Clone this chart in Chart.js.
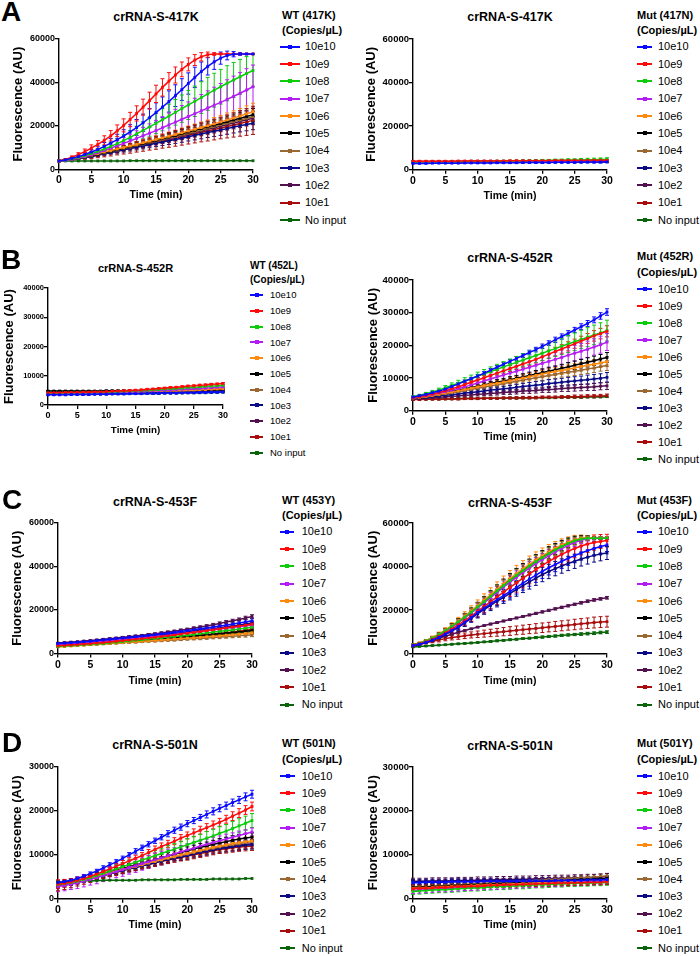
<!DOCTYPE html>
<html>
<head>
<meta charset="utf-8">
<script src="https://cdn.jsdelivr.net/npm/chart.js@4.4.0/dist/chart.umd.min.js"></script>
<style>
  html, body { margin: 0; padding: 0; background: #fff; }
  body { width: 700px; height: 956px; position: relative; overflow: hidden;
         font-family: 'Liberation Sans', Arial, sans-serif; color: #000; }
  canvas { position: absolute; }
  .t { position: absolute; white-space: nowrap; line-height: 1; }
</style>
</head>
<body>
<script>
const FONT = "'Liberation Sans', Arial, sans-serif";

// ---- data ----
const timeMin = [0,1,2,3,4,5,6,7,8,9,10,11,12,13,14,15,16,17,18,19,20,21,22,23,24,25,26,27,28,29,30];
const xTicks = [0,5,10,15,20,25,30];
const yTicks60 = [0,20000,40000,60000];
const yTicks40 = [0,10000,20000,30000,40000];
const yTicks30 = [0,10000,20000,30000];
const concLabels = ['10e10','10e9','10e8','10e7','10e6','10e5','10e4','10e3','10e2','10e1','No input'];
const seriesColors = ['#0a0aff','#ff0a0a','#0ccc0c','#b41cf4','#ff8a10','#000000','#9a6832','#0a0a86','#52104f','#a80c0c','#0a640a'];

// A, WT (417K)
const wt417K = [
  [3800,4300,5000,5800,6800,7900,9100,10500,12000,13600,15300,17200,19200,21400,23700,26100,28600,31200,33900,36700,39500,42300,45000,47400,49500,51200,52400,53000,53100,53100,53100],
  [3800,4500,5500,6700,8100,9700,11400,13300,15400,17700,20200,22900,25700,28600,31600,34700,37700,40600,43400,46000,48300,50300,51800,52800,53100,53100,53100,53100,53100,53100,53100],
  [3800,4200,4800,5500,6300,7200,8200,9300,10500,11800,13200,14700,16300,17900,19500,21100,22800,24500,26200,27900,29600,31300,33000,34700,36400,38000,39600,41100,42600,44100,45500],
  [3800,4100,4600,5200,5900,6700,7600,8600,9700,10800,11900,13000,14200,15400,16600,17800,19100,20400,21700,23000,24300,25600,26900,28200,29500,30800,32200,33600,35000,36500,38000],
  [3800,4200,4700,5300,5900,6500,7200,7900,8600,9300,10000,10700,11400,12200,12900,13700,14400,15200,16000,16800,17600,18400,19200,20000,20900,21800,22700,23600,24500,25500,26500],
  [3800,4200,4600,5100,5700,6300,6900,7600,8300,9000,9700,10400,11100,11800,12500,13300,14000,14800,15500,16300,17100,17900,18700,19500,20300,21100,21900,22700,23500,24300,25100],
  [3800,4100,4500,5000,5600,6200,6800,7500,8100,8800,9500,10200,10900,11600,12300,13000,13700,14400,15100,15800,16600,17300,18100,18900,19700,20500,21200,22000,22700,23500,24200],
  [3800,4100,4500,4900,5400,5900,6500,7100,7700,8300,8900,9500,10100,10700,11300,11900,12500,13100,13700,14300,15000,15600,16200,16900,17500,18100,18700,19400,20000,20600,21200],
  [3800,4100,4500,5000,5500,6100,6700,7300,8000,8600,9300,10000,10600,11300,12000,12700,13400,14100,14800,15500,16200,16900,17600,18400,19100,19800,20600,21300,22000,22800,23500],
  [3800,4100,4500,4900,5400,5900,6500,7100,7700,8400,9000,9600,10300,10900,11600,12200,12900,13500,14200,14900,15600,16300,17000,17600,18300,19000,19700,20400,21100,21800,22500],
  [3800,3800,3800,3800,3800,3800,3800,3800,3800,3800,3800,3900,3900,3900,3900,3900,3900,3900,3900,3900,3900,3900,3900,3900,3900,3900,3900,3900,3900,3900,3900]
];
const eA1Blue = [200,300,500,700,900,1200,1500,1800,2100,2500,2900,3300,3700,4000,4300,4500,4700,4900,5000,5000,4900,4700,4400,4000,3500,2800,2000,1200,600,300,200];
const eA1Red = [200,400,600,900,1200,1500,1800,2100,2400,2700,3000,3300,3500,3700,3900,4000,4000,3900,3700,3400,3000,2500,1900,1200,600,300,200,200,200,200,200];
const eA1Green = [200,300,400,600,800,1000,1300,1600,1900,2300,2700,3100,3500,3900,4300,4700,5100,5500,5900,6300,6700,7000,7300,7600,7800,8000,8100,8100,8000,7800,7500];
const eA1Purple = [200,300,400,600,800,1000,1300,1600,1900,2300,2700,3100,3500,3900,4300,4700,5100,5500,5900,6300,6700,7100,7500,7900,8300,8700,9000,9300,9600,9800,10000];
const eA1Orange = [200,200,300,400,500,600,700,800,900,1000,1100,1200,1300,1400,1500,1700,1800,1900,2000,2200,2300,2400,2600,2700,2900,3000,3200,3300,3500,3700,3900];
const eA1Low = [200,200,300,300,400,500,600,700,800,900,1000,1100,1200,1300,1400,1500,1600,1700,1800,1900,2000,2100,2200,2300,2400,2500,2600,2700,2800,2900,3000];
const eA1DRed = [200,300,400,600,800,1000,1200,1400,1600,1800,2000,2200,2400,2600,2800,3000,3200,3400,3600,3800,4000,4200,4400,4600,4800,5000,5300,5600,5900,6200,6500];
const wt417KErr = [eA1Blue, eA1Red, eA1Green, eA1Purple, eA1Orange, eA1Low, eA1Low, eA1Low, eA1Low, eA1DRed, null];

// A, Mut (417N)
const mut417N = [
  [2900,2900,2900,3000,3000,3000,3000,3000,3100,3100,3100,3100,3100,3200,3200,3200,3200,3300,3300,3300,3300,3300,3400,3400,3400,3400,3500,3500,3500,3500,3600],
  [3900,3900,3900,3900,3900,3900,3900,4000,4000,4000,4000,4000,4000,4000,4000,4100,4100,4100,4100,4100,4100,4100,4200,4200,4200,4200,4200,4200,4300,4300,4300],
  [3700,3700,3700,3700,3700,3700,3700,3700,3800,3800,3800,3800,3800,3900,3900,3900,4000,4000,4100,4100,4200,4200,4300,4300,4400,4400,4500,4600,4600,4700,4800],
  [3600,3600,3600,3600,3600,3700,3700,3700,3700,3700,3700,3800,3800,3800,3800,3800,3900,3900,3900,3900,4000,4000,4000,4000,4100,4100,4100,4200,4200,4200,4300],
  [3500,3500,3500,3500,3500,3500,3500,3600,3600,3600,3600,3600,3600,3600,3700,3700,3700,3700,3700,3700,3800,3800,3800,3800,3800,3900,3900,3900,3900,4000,4000],
  [3400,3400,3400,3400,3400,3400,3500,3500,3500,3500,3500,3500,3500,3500,3600,3600,3600,3600,3600,3600,3600,3700,3700,3700,3700,3700,3700,3800,3800,3800,3800],
  [3500,3500,3500,3500,3500,3500,3500,3500,3600,3600,3600,3600,3600,3600,3700,3700,3700,3700,3700,3700,3800,3800,3800,3800,3800,3800,3900,3900,3900,3900,4000],
  [3300,3300,3300,3300,3300,3300,3300,3400,3400,3400,3400,3400,3400,3400,3500,3500,3500,3500,3500,3500,3500,3600,3600,3600,3600,3600,3600,3700,3700,3700,3700],
  [3800,3800,3800,3800,3800,3800,3800,3800,3800,3900,3900,3900,3900,3900,3900,3900,3900,4000,4000,4000,4000,4000,4000,4000,4000,4100,4100,4100,4100,4100,4100],
  [3700,3700,3700,3700,3700,3700,3700,3700,3700,3800,3800,3800,3800,3800,3800,3800,3800,3800,3900,3900,3900,3900,3900,3900,3900,3900,4000,4000,4000,4000,4000],
  [3600,3600,3600,3600,3600,3600,3600,3600,3600,3600,3600,3600,3600,3600,3600,3600,3700,3700,3700,3700,3700,3700,3700,3700,3700,3700,3700,3700,3700,3700,3700]
];
const eA2 = [150,150,150,150,150,150,150,150,200,200,200,200,200,200,200,250,250,250,250,250,300,300,300,300,300,350,350,350,400,400,400];
const eA2Green = [200,200,200,200,200,200,250,250,250,250,300,300,300,300,350,350,400,400,450,450,500,500,550,550,600,600,650,650,700,700,700];
const mut417NErr = [eA2, eA2, eA2Green, eA2, eA2, eA2, eA2, eA2, eA2, eA2, null];

// B, WT (452L)
const wt452L = [
  [3500,3500,3500,3500,3600,3600,3600,3600,3700,3700,3700,3800,3800,3800,3900,3900,3900,4000,4000,4000,4100,4100,4100,4200,4200,4200,4300,4300,4400,4400,4500],
  [4200,4200,4200,4300,4300,4300,4400,4400,4500,4500,4600,4700,4800,4900,5000,5100,5200,5400,5500,5700,5800,6000,6100,6300,6500,6600,6800,6900,7100,7200,7400],
  [4000,4000,4000,4100,4100,4100,4200,4200,4300,4300,4400,4500,4600,4700,4800,4900,5000,5100,5200,5300,5500,5600,5700,5800,6000,6100,6200,6400,6500,6600,6800],
  [3900,3900,3900,4000,4000,4000,4100,4100,4200,4200,4300,4300,4400,4500,4500,4600,4700,4800,4900,5000,5100,5200,5300,5400,5500,5600,5700,5800,5900,6100,6200],
  [4000,4000,4000,4000,4100,4100,4100,4200,4200,4200,4300,4300,4400,4400,4500,4500,4600,4600,4700,4700,4800,4900,4900,5000,5100,5100,5200,5300,5400,5500,5600],
  [4800,4800,4800,4800,4800,4800,4800,4800,4800,4800,4900,4900,4900,4900,4900,4900,4900,5000,5000,5000,5000,5000,5000,5100,5100,5100,5100,5100,5200,5200,5200],
  [4300,4300,4300,4300,4400,4400,4400,4400,4500,4500,4500,4500,4600,4600,4600,4700,4700,4700,4800,4800,4800,4900,4900,4900,5000,5000,5100,5100,5200,5200,5300],
  [3800,3800,3800,3800,3900,3900,3900,3900,4000,4000,4000,4100,4100,4100,4200,4200,4200,4300,4300,4300,4400,4400,4500,4500,4500,4600,4600,4700,4700,4800,4900],
  [4100,4100,4100,4100,4200,4200,4200,4200,4300,4300,4300,4400,4400,4400,4500,4500,4500,4600,4600,4700,4700,4700,4800,4800,4900,4900,5000,5000,5100,5200,5300],
  [4000,4000,4000,4100,4100,4100,4100,4200,4200,4200,4300,4300,4300,4400,4400,4500,4500,4600,4600,4700,4700,4800,4800,4900,5000,5000,5100,5200,5300,5400,5500],
  [3700,3700,3700,3700,3700,3800,3800,3800,3800,3800,3900,3900,3900,3900,3900,4000,4000,4000,4000,4000,4100,4100,4100,4100,4200,4200,4200,4200,4300,4300,4400]
];
const eB1 = [150,150,150,150,150,150,150,150,150,150,200,200,200,200,200,200,200,200,200,200,250,250,250,250,250,250,300,300,300,300,300];
const wt452LErr = [eB1, eB1, eB1, eB1, eB1, eB1, eB1, eB1, eB1, eB1, null];

// B, Mut (452R)
const mut452R = [
  [4200,4600,5000,5500,6000,6600,7400,8200,9000,9800,10600,11500,12400,13300,14200,15100,16000,16900,17800,18700,19700,20700,21700,22700,23700,24700,25700,26700,27800,29000,30200],
  [4000,4300,4700,5100,5600,6100,6700,7300,8000,8700,9400,10100,10800,11500,12200,12900,13600,14300,15000,15700,16500,17300,18100,18900,19700,20500,21300,22100,22900,23600,24300],
  [4300,4700,5200,5700,6300,7000,7700,8400,9100,9800,10600,11300,12000,12700,13400,14100,14800,15500,16200,16900,17600,18300,19000,19700,20400,21100,21800,22500,23200,23800,24500],
  [4000,4300,4600,5000,5400,5800,6300,6800,7300,7900,8500,9100,9700,10300,10900,11500,12100,12700,13300,13900,14500,15100,15700,16300,17000,17600,18200,18800,19500,20200,21000],
  [3900,4100,4400,4700,5000,5400,5700,6100,6500,6900,7300,7700,8100,8400,8800,9200,9600,10000,10400,10800,11200,11600,12000,12300,12700,13100,13500,13900,14200,14600,15000],
  [4000,4200,4500,4800,5100,5500,5900,6300,6700,7100,7500,7900,8300,8700,9100,9500,9900,10300,10800,11200,11700,12100,12500,13000,13400,13900,14400,14800,15300,15800,16300],
  [3900,4100,4300,4600,4900,5200,5500,5800,6200,6500,6900,7200,7600,7900,8300,8600,9000,9400,9700,10100,10400,10800,11100,11500,11800,12100,12400,12800,13100,13500,13800],
  [3800,3900,4100,4300,4500,4700,4900,5100,5400,5600,5800,6000,6300,6500,6700,6900,7200,7400,7600,7800,8000,8300,8500,8700,8900,9100,9300,9500,9700,9900,10200],
  [3600,3700,3800,4000,4100,4200,4400,4500,4700,4800,5000,5100,5300,5400,5600,5700,5800,6000,6100,6200,6400,6500,6600,6800,6900,7000,7100,7200,7300,7500,7600],
  [3400,3400,3500,3500,3500,3600,3600,3600,3700,3700,3700,3800,3800,3800,3900,3900,3900,4000,4000,4000,4100,4100,4100,4200,4200,4300,4300,4400,4400,4500,4600],
  [3500,3500,3500,3600,3600,3600,3600,3700,3700,3700,3700,3800,3800,3800,3800,3900,3900,3900,3900,4000,4000,4000,4000,4100,4100,4100,4100,4200,4200,4200,4300]
];
const eB2Blue = [200,200,300,300,300,300,400,400,400,400,500,500,500,500,600,600,600,600,700,700,700,700,800,800,800,800,900,900,900,1000,1000];
const eB2Green = [200,300,400,500,600,700,800,900,1000,1100,1200,1300,1400,1500,1600,1700,1800,1900,2000,2100,2200,2300,2400,2500,2600,2700,2800,2900,3000,3100,3200];
const eB2Red = [200,200,300,300,400,400,500,500,600,600,700,700,800,800,900,900,1000,1000,1100,1100,1200,1200,1300,1300,1400,1400,1500,1500,1600,1600,1700];
const eB2Purple = [200,200,300,300,400,500,600,700,800,900,1000,1100,1200,1300,1400,1500,1600,1700,1800,1900,2000,2100,2200,2300,2300,2400,2400,2500,2500,2600,2600];
const eB2Mid = [200,200,300,300,300,400,400,500,500,600,600,700,700,800,800,900,900,1000,1000,1100,1100,1200,1200,1200,1300,1300,1300,1400,1400,1400,1500];
const eB2Low = [200,200,200,300,300,300,400,400,400,500,500,500,600,600,600,700,700,700,800,800,800,900,900,900,1000,1000,1000,1000,1100,1100,1100];
const eB2Flat = [200,200,200,200,200,200,200,300,300,300,300,300,300,300,300,300,400,400,400,400,400,400,400,400,400,500,500,500,500,500,500];
const mut452RErr = [eB2Blue, eB2Red, eB2Green, eB2Purple, eB2Mid, eB2Mid, eB2Mid, eB2Mid, eB2Low, eB2Flat, null];

// C, WT (453Y)
const wt453Y = [
  [4500,4700,4900,5100,5400,5600,5900,6200,6500,6800,7100,7400,7700,8000,8300,8600,9000,9300,9700,10100,10500,10900,11300,11700,12100,12600,13000,13500,14000,14500,15000],
  [3500,3700,3900,4100,4300,4500,4800,5000,5300,5600,5900,6200,6500,6800,7100,7400,7800,8100,8500,8900,9300,9700,10100,10500,10900,11300,11800,12200,12600,13000,13500],
  [3200,3400,3600,3800,4000,4200,4400,4600,4900,5100,5400,5700,6000,6300,6600,6900,7200,7500,7800,8100,8400,8700,9100,9400,9800,10100,10500,10800,11200,11600,12000],
  [4000,4200,4400,4600,4800,5000,5300,5500,5800,6000,6300,6600,6900,7200,7500,7800,8100,8400,8700,9100,9400,9800,10100,10500,10900,11200,11600,12000,12300,12700,13000],
  [3000,3200,3400,3600,3800,4000,4200,4400,4600,4800,5000,5200,5400,5600,5800,6000,6200,6400,6600,6800,7000,7200,7400,7700,7900,8100,8400,8600,8900,9200,9500],
  [3500,3700,3900,4100,4300,4500,4700,4900,5100,5300,5500,5700,5900,6100,6300,6500,6800,7000,7200,7500,7700,8000,8200,8500,8800,9000,9300,9600,9900,10200,10500],
  [3200,3400,3600,3700,3900,4100,4200,4400,4600,4700,4900,5100,5200,5400,5600,5700,5900,6100,6200,6400,6600,6800,6900,7100,7300,7500,7700,7900,8100,8300,8500],
  [4500,4700,4900,5100,5300,5500,5800,6000,6300,6500,6800,7100,7400,7700,8000,8300,8600,8900,9200,9500,9900,10200,10600,11000,11400,11800,12200,12600,13000,13500,14000],
  [4800,5000,5200,5400,5700,5900,6200,6500,6800,7100,7400,7700,8000,8300,8700,9000,9400,9800,10200,10700,11100,11600,12100,12600,13200,13800,14400,15000,15600,16300,17000],
  [3300,3500,3700,3900,4100,4300,4500,4700,4900,5100,5300,5500,5700,5900,6200,6400,6600,6900,7100,7400,7700,8000,8300,8600,8900,9200,9500,9800,10200,10600,11000],
  [3300,3500,3600,3800,4000,4200,4400,4600,4800,5000,5200,5400,5600,5800,6000,6200,6400,6600,6800,7100,7300,7500,7700,8000,8200,8500,8800,9100,9400,9700,10000]
];
const eC1Small = [200,200,200,200,200,300,300,300,300,300,300,400,400,400,400,400,500,500,500,500,500,600,600,600,600,700,700,700,700,800,800];
const eC1Green = [200,200,300,300,300,400,400,400,500,500,500,600,600,600,700,700,700,800,800,800,900,900,900,1000,1000,1000,1100,1100,1100,1200,1200];
const wt453YErr = [eC1Green, eC1Small, eC1Green, eC1Small, eC1Small, eC1Small, eC1Small, eC1Small, eC1Small, eC1Small, eC1Small];

// C, Mut (453F)
const mut453F = [
  [3600,4200,5000,6100,7400,8900,10500,12300,14300,16500,18800,20800,22800,24700,26600,28500,30400,32300,34200,36000,37800,39400,40900,42400,43800,45000,46200,47300,48300,49200,49900],
  [3800,4400,5300,6400,7800,9400,11200,13100,15100,17200,19400,21600,23800,26000,28200,30400,32500,34600,36600,38600,40500,42300,44000,45600,47000,48300,49400,50300,51000,51500,51900],
  [3900,4600,5700,7000,8600,10400,12400,14500,16700,19000,21400,23800,26300,28800,31200,33600,35900,38100,40200,42200,44100,45900,47600,49200,50600,51800,52600,53000,53000,53000,53000],
  [3800,4500,5500,6800,8300,10100,12000,14100,16300,18600,20900,23300,25700,28100,30500,32800,35000,37200,39200,41200,43100,44900,46600,48200,49700,51000,52000,52700,53000,53000,53000],
  [4000,4800,5900,7300,8900,10700,12700,14900,17200,19600,22000,24500,27000,29500,32000,34400,36700,38900,41000,43000,44900,46700,48400,49900,51200,52300,53000,53200,53200,53200,53200],
  [4000,4700,5800,7100,8700,10500,12500,14600,16800,19100,21500,23900,26400,28900,31400,33800,36100,38300,40400,42400,44400,46300,48000,49600,51000,52100,52800,53100,53100,53100,53100],
  [3900,4600,5600,6900,8500,10300,12300,14400,16600,18900,21300,23700,26100,28600,31000,33400,35700,37900,40000,42000,43900,45700,47400,49000,50400,51600,52500,53000,53000,53000,53000],
  [3600,4200,5000,6000,7300,8700,10300,12000,14000,16100,18300,20200,22100,24000,25800,27600,29400,31200,32900,34600,36300,37700,39000,40200,41400,42400,43400,44300,45100,45700,46200],
  [3500,4300,5200,6100,7000,7900,8800,9700,10500,11300,12100,12800,13500,14200,14900,15600,16300,17000,17700,18400,19100,19800,20500,21200,21900,22600,23300,24000,24600,25100,25600],
  [3400,4100,4900,5600,6200,6800,7300,7700,8100,8500,8800,9100,9400,9700,10000,10300,10600,10900,11200,11500,11800,12100,12400,12700,13000,13300,13600,13900,14200,14400,14600],
  [3000,3200,3400,3600,3800,4000,4200,4400,4600,4800,5000,5300,5500,5800,6000,6300,6500,6800,7000,7300,7500,7800,8000,8300,8500,8700,8900,9100,9300,9600,9800]
];
const eC2Top = [200,300,400,600,800,1000,1200,1400,1600,1800,2000,2200,2400,2600,2800,2900,3000,3000,3000,3000,2900,2800,2600,2400,2100,1800,1400,1000,700,500,400];
const eC2Orange = [200,300,500,700,900,1100,1400,1700,2000,2300,2600,2900,3200,3400,3600,3700,3800,3800,3800,3700,3600,3400,3100,2800,2400,2000,1500,1000,700,500,400];
const eC2Red = [200,300,500,700,900,1200,1500,1800,2100,2400,2700,3000,3300,3600,3900,4100,4300,4500,4600,4700,4700,4700,4700,4600,4500,4300,4100,3800,3500,3200,2900];
const eC2Blue = [200,300,400,600,800,1000,1200,1400,1600,1800,2000,2200,2400,2600,2800,3000,3100,3200,3300,3300,3300,3300,3300,3300,3300,3300,3200,3200,3100,3100,3000];
const eC2DRed = [200,300,500,700,900,1000,1100,1200,1300,1400,1500,1600,1700,1800,1900,2000,2000,2100,2100,2200,2200,2200,2300,2300,2300,2400,2400,2400,2500,2500,2500];
const eC2Low = [100,100,200,200,200,200,300,300,300,300,300,300,400,400,400,400,400,400,400,500,500,500,500,500,500,500,600,600,600,600,600];
const mut453FErr = [eC2Blue, eC2Red, eC2Top, eC2Top, eC2Orange, eC2Top, eC2Top, eC2Blue, eC2Low, eC2DRed, eC2Low];

// D, WT (501N)
const wt501N = [
  [3700,3900,4200,4600,5100,5700,6300,7000,7700,8400,9200,10000,10800,11600,12400,13200,14000,14800,15600,16300,17100,17800,18500,19200,19900,20600,21200,21900,22500,23200,23800],
  [3300,3500,3800,4200,4600,5100,5600,6200,6800,7400,8000,8600,9200,9800,10500,11200,11900,12500,13100,13800,14400,15000,15600,16200,16800,17400,18100,18800,19500,20200,21000],
  [3200,3400,3700,4000,4400,4800,5300,5800,6300,6800,7300,7800,8300,8800,9300,9800,10300,10800,11300,11800,12300,12800,13300,13800,14300,14900,15400,16000,16600,17200,17800],
  [2800,3000,3300,3600,4000,4400,4800,5300,5700,6200,6600,7100,7500,8000,8400,8900,9300,9800,10200,10700,11100,11500,12000,12400,12800,13200,13600,14000,14400,14800,15200],
  [3200,3400,3700,4000,4300,4700,5100,5500,5900,6300,6700,7000,7400,7800,8200,8500,8900,9300,9600,10000,10300,10700,11000,11400,11700,12000,12300,12600,12800,13000,13200],
  [3400,3600,3900,4200,4500,4900,5300,5700,6100,6500,6900,7300,7700,8100,8500,8900,9300,9700,10100,10500,10900,11300,11700,12000,12400,12700,13000,13300,13600,13800,14000],
  [3300,3500,3800,4100,4400,4800,5100,5500,5900,6300,6600,7000,7400,7700,8100,8500,8800,9200,9500,9900,10200,10500,10900,11200,11500,11800,12100,12300,12500,12800,13000],
  [3200,3400,3700,4000,4300,4600,5000,5300,5700,6100,6400,6800,7100,7500,7800,8200,8500,8900,9200,9500,9800,10200,10500,10800,11100,11400,11600,11800,12000,12200,12300],
  [3000,3200,3500,3800,4200,4600,5000,5400,5800,6200,6600,7000,7400,7700,8100,8400,8800,9100,9500,9800,10100,10400,10700,11000,11300,11600,11800,12000,12200,12400,12500],
  [3000,3200,3500,3800,4100,4500,4900,5300,5700,6000,6400,6800,7100,7500,7800,8200,8500,8800,9100,9400,9700,10000,10300,10600,10900,11200,11400,11600,11800,11900,12000],
  [3800,3900,4000,4000,4100,4100,4100,4200,4200,4200,4200,4200,4200,4300,4300,4300,4300,4300,4300,4400,4400,4400,4400,4400,4500,4500,4500,4500,4500,4600,4600]
];
const eD1Blue = [300,300,300,400,400,400,400,500,500,500,500,500,600,600,600,600,600,700,700,700,700,700,700,800,800,800,800,800,800,900,900];
const eD1Red = [1000,900,800,700,700,600,600,600,600,600,700,700,700,700,700,800,800,800,800,800,800,900,900,900,900,900,900,1000,1000,1000,1000];
const eD1Green = [500,500,500,600,600,700,700,800,800,900,900,1000,1000,1100,1100,1200,1200,1300,1300,1300,1400,1400,1400,1500,1500,1500,1500,1600,1600,1600,1600];
const eD1Purple = [1200,1200,1200,1300,1300,1300,1400,1400,1400,1400,1500,1500,1500,1500,1500,1500,1500,1500,1400,1400,1400,1300,1300,1200,1200,1100,1100,1000,1000,900,900];
const eD1Mid = [500,500,500,500,500,600,600,600,600,600,700,700,700,700,700,800,800,800,800,800,900,900,900,900,900,1000,1000,1000,1000,1000,1000];
const eD1DRed = [1200,1100,1000,900,800,800,700,700,700,700,700,700,700,700,800,800,800,800,800,800,900,900,900,900,900,900,1000,1000,1000,1000,1000];
const wt501NErr = [eD1Blue, eD1Red, eD1Green, eD1Purple, eD1Mid, eD1Mid, eD1Mid, eD1Mid, eD1Mid, eD1DRed, null];

// D, Mut (501Y)
const mut501Y = [
  [3600,3600,3700,3700,3700,3700,3800,3800,3800,3800,3800,3900,3900,3900,3900,3900,3900,4000,4000,4000,4000,4000,4100,4100,4100,4100,4100,4200,4200,4200,4300],
  [2200,2300,2300,2400,2500,2500,2600,2700,2700,2800,2800,2900,3000,3000,3100,3100,3200,3200,3300,3300,3400,3400,3500,3500,3500,3600,3600,3700,3700,3700,3800],
  [1600,1700,1800,1900,2000,2000,2100,2200,2300,2400,2400,2500,2600,2700,2700,2800,2900,2900,3000,3100,3100,3200,3300,3300,3400,3400,3500,3500,3600,3600,3700],
  [1800,1900,2000,2100,2200,2200,2300,2400,2500,2500,2600,2700,2800,2800,2900,3000,3000,3100,3200,3200,3300,3400,3400,3500,3600,3600,3700,3800,3800,3900,4000],
  [2300,2400,2400,2500,2600,2600,2700,2800,2800,2900,3000,3000,3100,3100,3200,3300,3300,3400,3400,3500,3600,3600,3700,3700,3800,3800,3900,4000,4000,4100,4200],
  [2500,2600,2600,2700,2800,2800,2900,3000,3000,3100,3200,3200,3300,3400,3400,3500,3600,3600,3700,3800,3800,3900,4000,4000,4100,4200,4300,4300,4400,4500,4600],
  [2600,2700,2700,2800,2900,3000,3100,3100,3200,3300,3400,3500,3500,3600,3700,3800,3900,3900,4000,4100,4200,4300,4400,4400,4500,4600,4700,4800,4900,5000,5200],
  [3800,3800,3900,3900,3900,3900,4000,4000,4000,4000,4000,4100,4100,4100,4100,4100,4200,4200,4200,4200,4300,4300,4300,4300,4300,4400,4400,4400,4400,4500,4500],
  [3900,3900,3900,4000,4000,4000,4000,4100,4100,4100,4200,4200,4200,4300,4300,4300,4400,4400,4400,4500,4500,4500,4600,4600,4600,4700,4700,4800,4800,4900,5000],
  [2400,2400,2500,2500,2600,2600,2700,2700,2800,2800,2900,2900,3000,3000,3000,3100,3100,3200,3200,3200,3300,3300,3400,3400,3400,3500,3500,3500,3600,3600,3700],
  [3700,3700,3700,3800,3800,3800,3800,3800,3900,3900,3900,3900,3900,3900,4000,4000,4000,4000,4000,4100,4100,4100,4100,4100,4200,4200,4200,4200,4200,4300,4300]
];
const eD2 = [500,500,500,500,500,500,500,500,500,500,500,500,500,500,500,500,500,500,500,500,500,500,500,500,500,500,500,500,500,500,500];
const eD2Wide = [700,700,700,700,700,700,700,700,700,700,700,700,700,700,700,700,700,700,700,700,700,700,700,700,700,700,700,700,700,700,700];
const mut501YErr = [eD2, eD2, eD2Wide, eD2Wide, eD2, eD2, eD2, eD2, eD2Wide, eD2, null];

// ---- layout of the eight panels ----
const L_LEG = { hfs: 11, ifs: 11, l0: 280, l1: 298, tx: 304, x: 282 };
const R_LEG = { hfs: 11, ifs: 11, l0: 637, l1: 652, tx: 658, x: 637 };

const panels = [
  { vals: wt417K, errs: wt417KErr, title: 'crRNA-S-417K', head: 'WT (417K)', yTicks: yTicks60, yMax: 60000,
    cx: 0, L: 59, T: 39, R: 253, B: 168, W: 48.5, H: 31.8, ty: 17, tfs: 12.5, ytf: 9, xtf: 10.5, xTf: 10.5,
    lg: Object.assign({}, L_LEG, { h1: 15, h2: 30, y0: 46.7, st: 17.33, l1: 300, tx: 305 }) },
  { vals: mut417N, errs: mut417NErr, title: 'crRNA-S-417K', head: 'Mut (417N)', yTicks: yTicks60, yMax: 60000,
    cx: 350, L: 413, T: 39, R: 607, B: 168, W: 49, H: 32.3, ty: 17, tfs: 12.5, ytf: 9.5, xtf: 10.5, xTf: 10.5,
    lg: Object.assign({}, R_LEG, { h1: 15, h2: 30, y0: 46.7, st: 17.33 }) },
  { vals: wt452L, errs: wt452LErr, title: 'crRNA-S-452R', head: 'WT (452L)', yTicks: yTicks40, yMax: 40000,
    cx: 0, L: 48, T: 288, R: 223, B: 404, W: 46.6, H: 30.9, ty: 268, tfs: 11, ytf: 7.5, xtf: 9, xTf: 9.8,
    lg: { hfs: 10, ifs: 9.5, x: 250, l0: 250, l1: 263, tx: 270, h1: 266, h2: 280, y0: 295, st: 15.75 } },
  { vals: mut452R, errs: mut452RErr, title: 'crRNA-S-452R', head: 'Mut (452R)', yTicks: yTicks40, yMax: 40000,
    cx: 350, L: 413, T: 280, R: 607, B: 409, W: 47.5, H: 32.3, ty: 258, tfs: 12.5, ytf: 9.5, xtf: 10.5, xTf: 10.5,
    lg: Object.assign({}, R_LEG, { h1: 256, h2: 272.7, y0: 289, st: 17.04 }) },
  { vals: wt453Y, errs: wt453YErr, title: 'crRNA-S-453F', head: 'WT (453Y)', yTicks: yTicks60, yMax: 60000,
    cx: 0, L: 58, T: 523, R: 252, B: 652, W: 48.3, H: 33.6, ty: 502, tfs: 12.5, ytf: 9, xtf: 10.5, xTf: 10.5,
    lg: Object.assign({}, L_LEG, { h1: 500, h2: 515, y0: 531.7, st: 17.3, l1: 294, tx: 301.7 }) },
  { vals: mut453F, errs: mut453FErr, title: 'crRNA-S-453F', head: 'Mut (453F)', yTicks: yTicks60, yMax: 60000,
    cx: 350, L: 413, T: 523, R: 607, B: 652, W: 47.8, H: 33.6, ty: 503, tfs: 12.5, ytf: 9.5, xtf: 10.5, xTf: 10.5,
    lg: Object.assign({}, R_LEG, { h1: 500, h2: 515, y0: 531.7, st: 17.3 }) },
  { vals: wt501N, errs: wt501NErr, title: 'crRNA-S-501N', head: 'WT (501N)', yTicks: yTicks30, yMax: 30000,
    cx: 0, L: 58, T: 767, R: 252, B: 897, W: 48.3, H: 32.3, ty: 745.5, tfs: 12.5, ytf: 9, xtf: 10.5, xTf: 10.5,
    lg: Object.assign({}, L_LEG, { h1: 743.3, h2: 759.3, y0: 776, st: 17.2, l1: 295, tx: 301.7 }) },
  { vals: mut501Y, errs: mut501YErr, title: 'crRNA-S-501N', head: 'Mut (501Y)', yTicks: yTicks30, yMax: 30000,
    cx: 350, L: 413, T: 767, R: 607, B: 897, W: 47.8, H: 32.6, ty: 746, tfs: 12.5, ytf: 9.5, xtf: 10.5, xTf: 10.5,
    lg: Object.assign({}, R_LEG, { h1: 743.3, h2: 759.3, y0: 776, st: 17.2 }) }
];

const letters = [
  { s: 'A', x: 1, capTop: 2 },
  { s: 'B', x: 1, capTop: 250 },
  { s: 'C', x: 2, capTop: 490 },
  { s: 'D', x: 2, capTop: 733 }
];

// ---- helpers ----
function addText(s, x, yc, fs, bold, center, width) {
  const d = document.createElement('div');
  d.className = 't';
  d.textContent = s;
  d.style.fontSize = fs + 'px';
  d.style.fontWeight = bold ? 'bold' : 'normal';
  d.style.top = (yc - 0.4885 * fs) + 'px';
  if (center) {
    d.style.left = (x - width / 2) + 'px';
    d.style.width = width + 'px';
    d.style.textAlign = 'center';
  } else {
    d.style.left = x + 'px';
  }
  document.body.appendChild(d);
}

function addLegend(p) {
  const g = p.lg;
  addText(p.head, g.x, g.h1, g.hfs, true);
  addText('(Copies/\u00b5L)', g.x, g.h2, g.hfs, true);
  concLabels.forEach((lab, i) => {
    const yc = g.y0 + i * g.st;
    const yr = Math.round(yc);
    const ln = document.createElement('div');
    ln.style.cssText = `position:absolute;left:${Math.round(g.l0)}px;top:${yr - 1}px;width:${Math.round(g.l1 - g.l0)}px;height:2px;background:${seriesColors[i]};`;
    document.body.appendChild(ln);
    const mk = document.createElement('div');
    const mx = Math.round((g.l0 + g.l1) / 2);
    mk.style.cssText = `position:absolute;left:${mx - 2}px;top:${yr - 2}px;width:4px;height:4px;background:${seriesColors[i]};`;
    document.body.appendChild(mk);
    addText(lab, g.tx, yc, g.ifs, false);
  });
}

const errorBars = {
  id: 'errorBars',
  beforeDatasetsDraw(chart) {
    const { ctx } = chart;
    const xs = chart.scales.x, ys = chart.scales.y;
    chart.data.datasets.forEach(ds => {
      if (!ds.err) return;
      ctx.save();
      ctx.strokeStyle = ds.borderColor;
      ctx.lineWidth = 1;
      ctx.beginPath();
      ds.data.forEach((pt, j) => {
        const e = ds.err[j];
        if (!e) return;
        const px = xs.getPixelForValue(pt.x);
        const top = ys.getPixelForValue(pt.y + e);
        const bot = ys.getPixelForValue(pt.y - e);
        ctx.moveTo(px, top); ctx.lineTo(px, bot);
        ctx.moveTo(px - 2, top); ctx.lineTo(px + 2, top);
        ctx.moveTo(px - 2, bot); ctx.lineTo(px + 2, bot);
      });
      ctx.stroke();
      ctx.restore();
    });
  }
};

function makePanel(p) {
  const cy = p.T - 10;
  const cw = p.R - p.cx + 12;
  const ch = p.B - cy + p.H + 2;
  const cv = document.createElement('canvas');
  cv.width = cw; cv.height = ch;
  cv.style.left = p.cx + 'px';
  cv.style.top = cy + 'px';
  document.body.appendChild(cv);

  const datasets = p.vals.map((arr, i) => ({
    label: concLabels[i],
    data: arr.map((v, j) => ({ x: timeMin[j], y: v })),
    err: p.errs[i],
    borderColor: seriesColors[i],
    backgroundColor: seriesColors[i],
    borderWidth: 1.5,
    pointStyle: 'rect',
    pointRadius: 2,
    pointBorderWidth: 0,
    pointBackgroundColor: seriesColors[i],
    tension: 0,
    clip: false
  }));

  const axisGrid = { display: true, drawOnChartArea: false, drawTicks: true, tickLength: 4, color: '#000', lineWidth: 1.3 };
  const axisBorder = { display: true, color: '#000', width: 1.4 };

  new Chart(cv, {
    type: 'line',
    data: { datasets },
    plugins: [errorBars],
    options: {
      responsive: false,
      animation: false,
      events: [],
      layout: { padding: { left: p.L - p.cx - p.W, top: p.T - cy, right: p.cx + cw - p.R, bottom: 0 } },
      plugins: { legend: { display: false }, title: { display: false }, tooltip: { enabled: false } },
      scales: {
        x: {
          type: 'linear', min: 0, max: 30,
          afterBuildTicks: s => { s.ticks = xTicks.map(v => ({ value: v })); },
          afterFit: s => { s.height = p.H; },
          grid: axisGrid, border: axisBorder,
          ticks: { color: '#000', padding: 1, autoSkip: false, maxRotation: 0,
                   font: { family: FONT, size: p.xtf, weight: 'bold' } },
          title: { display: true, text: 'Time (min)', color: '#000', padding: 0,
                   font: { family: FONT, size: p.xTf, weight: 'bold', lineHeight: 1.2 } }
        },
        y: {
          type: 'linear', min: 0, max: p.yMax,
          afterBuildTicks: s => { s.ticks = p.yTicks.map(v => ({ value: v })); },
          afterFit: s => { s.width = p.W; },
          grid: axisGrid, border: axisBorder,
          ticks: { color: '#000', padding: 0, callback: v => String(v),
                   font: { family: FONT, size: p.ytf, weight: 'bold' } },
          title: { display: true, text: 'Fluorescence (AU)', color: '#000', padding: 0,
                   font: { family: FONT, size: 13, weight: 'bold', lineHeight: 1.2 } }
        }
      }
    }
  });

  addText(p.title, (p.L + p.R) / 2, p.ty, p.tfs, true, true, 240);
  addLegend(p);
}

panels.forEach(makePanel);

letters.forEach(l => {
  const fs = 28;
  const d = document.createElement('div');
  d.className = 't';
  d.textContent = l.s;
  d.style.fontSize = fs + 'px';
  d.style.fontWeight = 'bold';
  d.style.left = l.x + 'px';
  d.style.top = (l.capTop - 0.1305 * fs) + 'px';
  document.body.appendChild(d);
});
</script>
</body>
</html>
